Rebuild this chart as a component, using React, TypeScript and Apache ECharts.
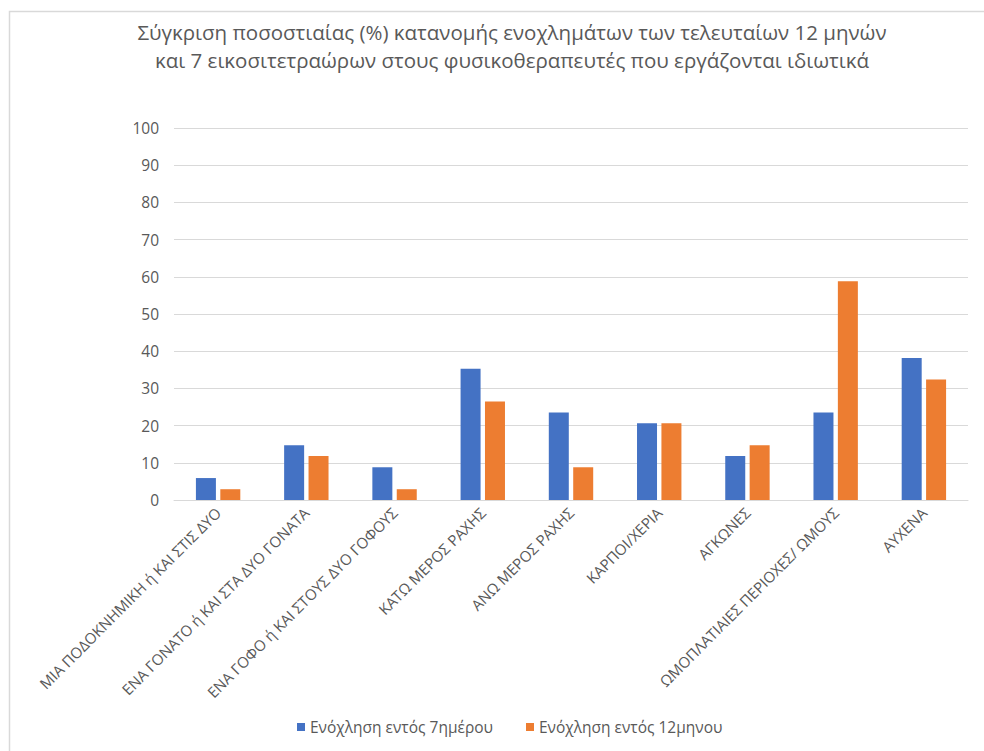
import React, { useEffect, useRef } from "react";
import * as echarts from "echarts";

const titleLines = [
  "Σύγκριση ποσοστιαίας (%) κατανομής ενοχλημάτων των τελευταίων 12 μηνών",
  "και 7 εικοσιτετραώρων στους φυσικοθεραπευτές που εργάζονται ιδιωτικά",
];

const categories = [
  "ΜΙΑ ΠΟΔΟΚΝΗΜΙΚΗ ή ΚΑΙ ΣΤΙΣ ΔΥΟ",
  "ΕΝΑ ΓΟΝΑΤΟ ή ΚΑΙ ΣΤΑ ΔΥΟ ΓΟΝΑΤΑ",
  "ΕΝΑ ΓΟΦΟ ή ΚΑΙ ΣΤΟΥΣ ΔΥΟ ΓΟΦΟΥΣ",
  "ΚΑΤΩ ΜΕΡΟΣ ΡΑΧΗΣ",
  "ΑΝΩ ΜΕΡΟΣ ΡΑΧΗΣ",
  "ΚΑΡΠΟΙ/ΧΕΡΙΑ",
  "ΑΓΚΩΝΕΣ",
  "ΩΜΟΠΛΑΤΙΑΙΕΣ ΠΕΡΙΟΧΕΣ/ ΩΜΟΥΣ",
  "ΑΥΧΕΝΑ",
];

const seriesNames = ["Ενόχληση εντός 7ημέρου", "Ενόχληση εντός 12μηνου"];
const week = [5.9, 14.7, 8.8, 35.3, 23.5, 20.6, 11.8, 23.5, 38.2];
const year = [2.9, 11.8, 2.9, 26.5, 8.8, 20.6, 14.7, 58.8, 32.4];

const FONT = "'Open Sans', 'Noto Sans', sans-serif";
const TEXT = "#595959";

export default function App() {
  const ref = useRef<HTMLDivElement>(null);
  useEffect(() => {
    if (!ref.current) return;
    const chart = echarts.init(ref.current, null, { renderer: "svg" });
    chart.setOption({
      animation: false,
      backgroundColor: "#ffffff",
      textStyle: { fontFamily: FONT },
      graphic: [
        {
          type: "rect",
          shape: { x: 9.5, y: 11.5, width: 1000, height: 800 },
          style: { fill: "none", stroke: "#d9d9d9", lineWidth: 1.5 },
          silent: true,
        },
        ...titleLines.map((t, i) => ({
          type: "text",
          x: 512,
          y: 31.5 + i * 28,
          silent: true,
          style: {
            text: t,
            fontFamily: FONT,
            fontSize: 20.5,
            fill: TEXT,
            textAlign: "center",
            textVerticalAlign: "middle",
          },
        })),
      ],
      legend: {
        bottom: 11,
        left: 292,
        icon: "rect",
        itemWidth: 8,
        itemHeight: 8,
        itemGap: 33,
        textStyle: { fontFamily: FONT, fontSize: 15.5, color: TEXT },
        data: seriesNames,
      },
      grid: { left: 174, right: 16, top: 128, bottom: 251, containLabel: false },
      xAxis: {
        type: "category",
        data: categories,
        axisLine: { lineStyle: { color: "#d9d9d9", width: 1 } },
        axisTick: { show: false },
        axisLabel: {
          rotate: 45,
          interval: 0,
          margin: 10,
          fontFamily: FONT,
          fontSize: 15,
          color: TEXT,
        },
      },
      yAxis: {
        type: "value",
        min: 0,
        max: 100,
        interval: 10,
        axisLine: { show: false },
        axisTick: { show: false },
        splitLine: { lineStyle: { color: "#d9d9d9", width: 1 } },
        axisLabel: { margin: 15, fontFamily: FONT, fontSize: 15.5, color: TEXT },
      },
      series: [
        {
          name: seriesNames[0],
          type: "bar",
          data: week,
          barWidth: 20,
          barGap: "22%",
          itemStyle: { color: "#4472C4" },
        },
        {
          name: seriesNames[1],
          type: "bar",
          data: year,
          barWidth: 20,
          barGap: "22%",
          itemStyle: { color: "#ED7D31" },
        },
      ],
    });
    return () => chart.dispose();
  }, []);
  return (
    <div
      ref={ref}
      style={{ position: "fixed", left: 0, top: 0, width: 984, height: 751 }}
    />
  );
}
